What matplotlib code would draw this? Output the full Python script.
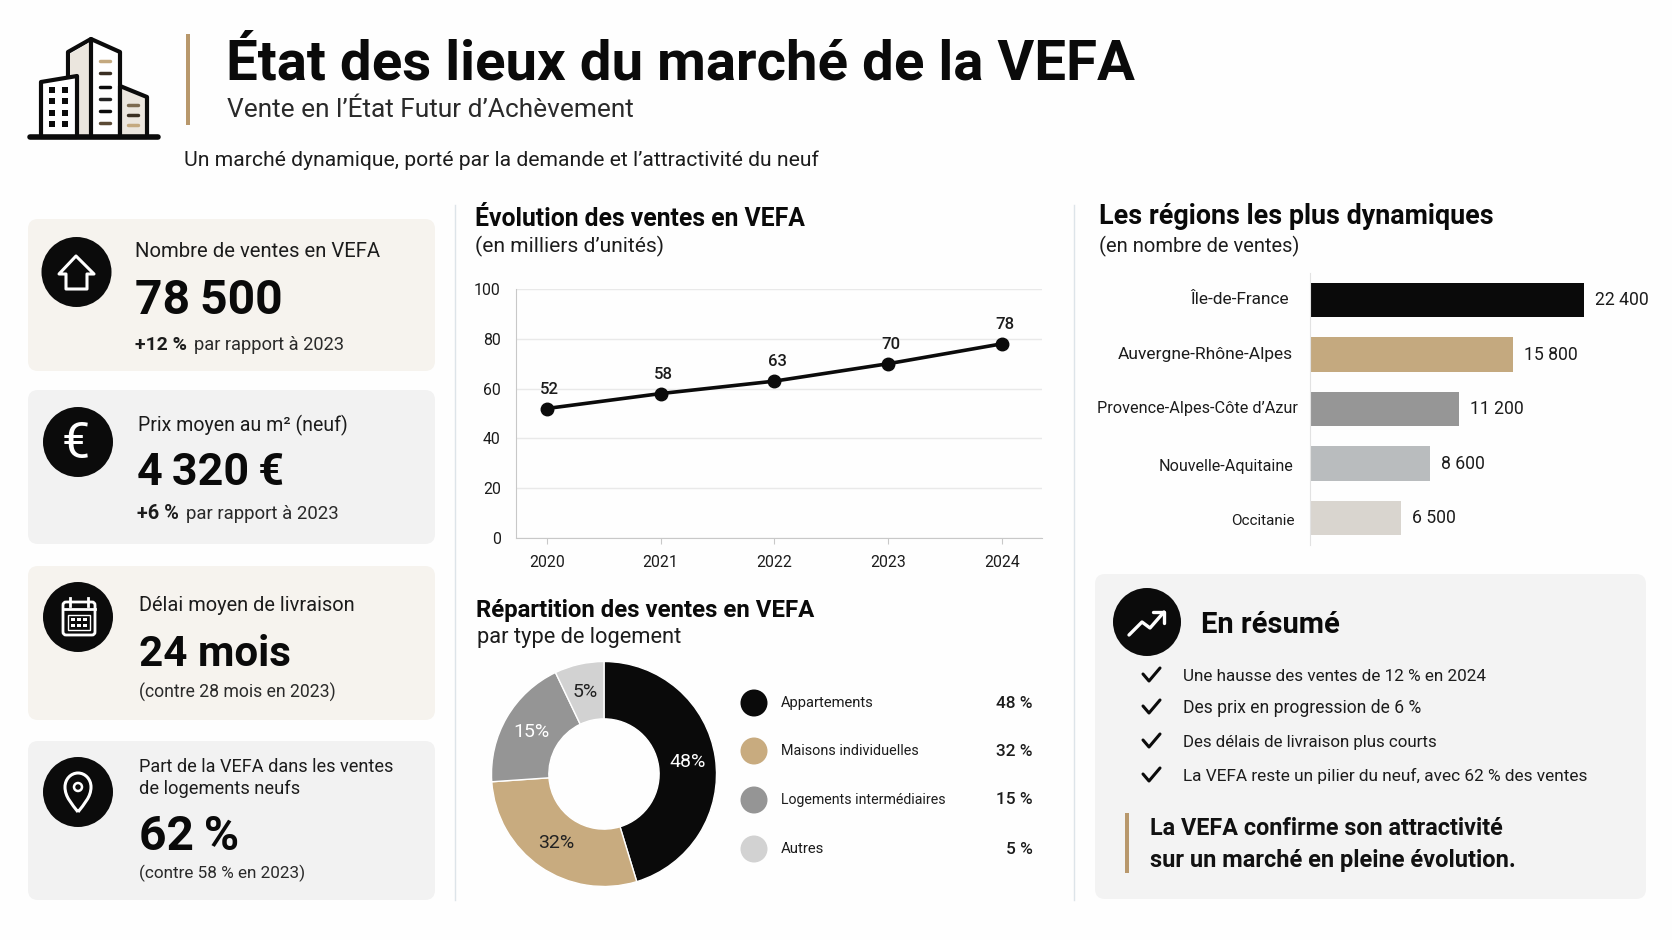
import math
import matplotlib
matplotlib.use('Agg')
import matplotlib.pyplot as plt
from matplotlib.patches import FancyBboxPatch, Circle, Rectangle, Polygon, PathPatch
from matplotlib.path import Path

W, H = 1672, 940
INK = '#0b0b0b'
TEXT = '#1c1c1c'
TAN = '#c4a97f'
ACCENT = '#b8986c'

plt.rcParams['font.family'] = ['Roboto', 'Noto Sans', 'DejaVu Sans']

years = ['2020', '2021', '2022', '2023', '2024']
sales = [52, 58, 63, 70, 78]
y_ticks = [0, 20, 40, 60, 80, 100]

types = ['Appartements', 'Maisons individuelles', 'Logements intermédiaires', 'Autres']
type_pct = [48, 32, 15, 5]
# the slices in the picture are not cut to their printed percentages: these are the drawn shares
type_drawn = [45.3, 28.6, 19.0, 7.1]
type_colors = ['#0a0a0a', '#c8ab7f', '#959595', '#d2d2d2']
type_label_colors = ['white', '#222222', 'white', '#222222']

regions = ['Île-de-France', 'Auvergne-Rhône-Alpes', 'Provence-Alpes-Côte d’Azur',
           'Nouvelle-Aquitaine', 'Occitanie']
region_sales = [22400, 15800, 11200, 8600, 6500]
# same thing for the bars, lengths read from their ends
region_drawn = [22400, 16620, 12200, 9825, 7450]
region_colors = ['#0a0a0a', '#c4a97f', '#969696', '#b9bcbe', '#d9d5cf']

kpi_labels = ['Nombre de ventes en VEFA', 'Prix moyen au m² (neuf)', 'Délai moyen de livraison',
              'Part de la VEFA dans les ventes\nde logements neufs']
kpi_values = ['78\u2009500', '4\u2009320\u2009€', '24 mois', '62\u2009%']
kpi_bold = ['+12 %', '+6 %', '', '']
kpi_notes = ['par rapport à 2023', 'par rapport à 2023', '(contre 28 mois en 2023)', '(contre 58 % en 2023)']

summary = ['Une hausse des ventes de 12 % en 2024', 'Des prix en progression de 6 %',
           'Des délais de livraison plus courts', 'La VEFA reste un pilier du neuf, avec 62 % des ventes']


def fr(n):
    return f'{n:,}'.replace(',', ' ')


fig = plt.figure(figsize=(W / 100, H / 100), dpi=100, facecolor='#fefefe')
renderer = fig.canvas.get_renderer()
bg = fig.add_axes([0, 0, 1, 1])
bg.set_xlim(0, W)
bg.set_ylim(H, 0)
bg.axis('off')


def px_axes(left, top, right, bottom):
    ax = fig.add_axes([left / W, 1 - bottom / H, (right - left) / W, (bottom - top) / H])
    ax.patch.set_alpha(0)
    return ax


def txt(x, y, s, to, weight='normal', color=TEXT, ha='left', va='baseline'):
    # to = right edge of the text in the reference, font size follows from it
    t = bg.text(x, y, s, fontsize=14, fontweight=weight, color=color, ha=ha, va=va)
    for _ in range(3):
        t.set_fontsize(t.get_fontsize() * (to - x) / t.get_window_extent(renderer).width)
    return t


def card(x0, y0, x1, y1, color):
    bg.add_patch(FancyBboxPatch((x0, y0), x1 - x0, y1 - y0, boxstyle='round,pad=0,rounding_size=10',
                                fc=color, ec='none'))


def stroke(points, lw, color='white', closed=False, fill='none'):
    if closed:
        bg.add_patch(Polygon(points, closed=True, fc=fill, ec=color, lw=lw, joinstyle='round'))
    else:
        xs, ys = zip(*points)
        bg.plot(xs, ys, color=color, lw=lw, solid_capstyle='round', solid_joinstyle='round')


# header
bg.add_patch(Rectangle((186, 34), 4, 91, fc=ACCENT, ec='none'))
txt(226, 80, 'État des lieux du marché de la VEFA', 1135, 'bold', color='#0a0a0a')
txt(227, 117, 'Vente en l’État Futur d’Achèvement', 633, color='#2a2a2a')
txt(184, 166, 'Un marché dynamique, porté par la demande et l’attractivité du neuf', 819)

# building logo
stroke([(68, 75), (68, 52), (91, 39), (120, 52), (120, 137), (68, 137)], 3, INK, True, 'white')
bg.add_patch(Polygon([(70, 54), (90, 42), (90, 135), (70, 135)], fc='#ebe6de', ec='none'))
stroke([(120, 86), (147, 97), (147, 137), (120, 137)], 3, INK, True, '#ebe6de')
stroke([(41, 137), (41, 82), (77, 76), (77, 137)], 3, INK, True, 'white')
stroke([(91, 39), (91, 137)], 3, INK)
stroke([(30, 137), (158, 137)], 4, INK)
for wy in [90, 101, 113, 124]:
    for wx in [52, 65]:
        bg.add_patch(Rectangle((wx - 3, wy - 3), 6, 6, fc=INK, ec='none'))
for wy, wc in zip([61, 73, 87, 99, 111, 123], [TAN, '#3a2f22', INK, '#222222', INK, '#5b4a35']):
    stroke([(100, wy), (110, wy)], 2.5, wc)
for wy, wc in zip([105, 115, 125], ['#7c6a50', '#3a2f22', TAN]):
    stroke([(128, wy), (138, wy)], 2.5, wc)

# KPI cards
card_boxes = [(28, 219, 435, 371), (28, 390, 435, 544), (28, 566, 435, 720), (28, 741, 435, 900)]
card_colors = ['#f6f3ee', '#f2f2f2', '#f6f3ee', '#f2f2f2']
circles = [(76.5, 272), (78, 442), (78, 617), (78, 792)]
text_x = [135, 138, 139, 139]
label_y = [257, 431, 611, 772]
label_end = [380, 348, 355, 393]
value_x = [135, 137, 139, 139]
value_y = [314, 485, 666, 850]
value_end = [283, 284, 291, 239]
note_y = [350, 519, 698, 878]
note_x = [194, 186, 139, 139]
note_end = [344, 339, 337, 306]
bold_end = [187, 179]
for i in range(4):
    card(*card_boxes[i], card_colors[i])
    bg.add_patch(Circle(circles[i], 35, fc=INK, ec='none', zorder=3))
    lines = kpi_labels[i].split('\n')
    txt(text_x[i], label_y[i], lines[0], label_end[i])
    if len(lines) > 1:
        txt(text_x[i], label_y[i] + 22.5, lines[1], 300)
    txt(value_x[i], value_y[i], kpi_values[i], value_end[i], 'bold', color='#0a0a0a')
    if kpi_bold[i]:
        txt(value_x[i], note_y[i], kpi_bold[i], bold_end[i], 'bold')
    txt(note_x[i], note_y[i], kpi_notes[i], note_end[i], color='#2a2a2a')

# card icons
kw = dict(zorder=4)
bg.add_patch(Polygon([(59, 274), (76, 256), (94, 274), (87, 274), (87, 289), (66, 289), (66, 274)],
                     fc='none', ec='white', lw=2.2, joinstyle='round', **kw))
bg.text(76, 458, '€', fontsize=36, color='white', ha='center', va='baseline', zorder=4)
bg.add_patch(FancyBboxPatch((63, 602), 32, 33, boxstyle='round,pad=0,rounding_size=3', fc='none', ec='white', lw=2, **kw))
bg.plot([63, 95], [609, 609], color='white', lw=2, zorder=4)
for bx in [70, 88]:
    bg.plot([bx, bx], [598, 606], color='white', lw=2, zorder=4)
bg.add_patch(Rectangle((68, 615), 22, 15, fc='none', ec='white', lw=1, zorder=4))
for gy in [619, 625]:
    for gx in [71, 77, 83]:
        bg.add_patch(Rectangle((gx, gy - 1.5), 4, 3.5, fc='white', ec='none', zorder=4))
pin = Path([(78, 812), (72, 804), (65, 797), (65, 787), (65, 779), (71, 773), (78, 773),
            (85, 773), (91, 779), (91, 787), (91, 797), (84, 804), (78, 812)],
           [Path.MOVETO] + [Path.CURVE4] * 12)
bg.add_patch(PathPatch(pin, fc='none', ec='white', lw=2.2, zorder=4))
bg.add_patch(Circle((78, 787), 4, fc='none', ec='white', lw=1.8, zorder=4))

# dividers
for dx in [455, 1074]:
    bg.plot([dx, dx], [205, 900], color='#dde4e9', lw=1)

# line chart
txt(475, 226, 'Évolution des ventes en VEFA', 805, 'bold', color='#0a0a0a')
txt(475, 252, '(en milliers d’unités)', 663)
ax = px_axes(516, 289, 1042, 538)
ax.plot(years, sales, color=INK, lw=2.6, marker='o', ms=9)
ax.set_xlim(-0.27, 4.35)
ax.set_ylim(0, 100)
ax.set_yticks(y_ticks)
ax.grid(axis='y', color='#e9e9e9', lw=1)
ax.set_axisbelow(True)
ax.tick_params(axis='x', length=4, color='#c8c8c8', labelsize=11.4, labelcolor=TEXT, pad=8)
ax.tick_params(axis='y', length=0, labelsize=11.4, labelcolor=TEXT, pad=11)
for s in ['top', 'right']:
    ax.spines[s].set_visible(False)
for s in ['left', 'bottom']:
    ax.spines[s].set_color('#c8c8c8')
for i, v in enumerate(sales):
    ax.annotate(str(v), (i, v), xytext=(2, 14), textcoords='offset points', ha='center',
                va='center', fontsize=12, fontweight='medium', color=TEXT)

# donut
txt(476, 617, 'Répartition des ventes en VEFA', 814, 'bold', color='#0a0a0a')
txt(477, 643, 'par type de logement', 681)
pie_ax = px_axes(491.5, 661.5, 716.5, 886.5)
wedges, _ = pie_ax.pie(type_drawn, colors=type_colors, startangle=90, counterclock=False, radius=1,
                       wedgeprops=dict(width=0.51, edgecolor='white', linewidth=1, clip_on=False))
pie_ax.set_xlim(-1, 1)
pie_ax.set_ylim(-1, 1)
for w, p, c in zip(wedges, type_pct, type_label_colors):
    a = math.radians((w.theta1 + w.theta2) / 2)
    pie_ax.text(0.75 * math.cos(a), 0.75 * math.sin(a), f'{p}%', ha='center', va='center',
                fontsize=14, color=c)
legend_y = [703, 751, 800, 849]
legend_end = [874.5, 918.5, 946.5, 824]
for ly, name, e, p, c in zip(legend_y, types, legend_end, type_pct, type_colors):
    bg.add_patch(Circle((754, ly), 13.5, fc=c, ec='none'))
    txt(781, ly, name, e, va='center')
    bg.text(1033, ly, f'{p} %', fontsize=12.4, fontweight='medium', color=TEXT, ha='right', va='center')

# bars
txt(1099, 224, 'Les régions les plus dynamiques', 1494, 'bold', color='#0a0a0a')
txt(1099, 252, '(en nombre de ventes)', 1300)
bar_ax = px_axes(1310, 272.75, 1672, 545.25)
bars = bar_ax.barh(range(5), region_drawn, height=0.624, color=region_colors)
bar_ax.set_xlim(0, 362 / 273.6 * 22400)
bar_ax.set_ylim(4.5, -0.5)
bar_ax.set_xticks([])
bar_ax.set_yticks(range(5), [''] * 5)
bar_ax.tick_params(axis='y', length=0)
for s in ['top', 'right', 'bottom']:
    bar_ax.spines[s].set_visible(False)
bar_ax.spines['left'].set_color('#e2e2e2')
bar_ax.bar_label(bars, labels=[fr(v) for v in region_sales], padding=8, fontsize=12.7, color=TEXT)
# the region names do not share one right edge in the reference
name_left = [1190.6, 1117.7, 1097.4, 1159, 1231]
name_right = [1289.5, 1293, 1298, 1295, 1295]
name_y = [299, 354, 409, 466, 521]
for name, x0, x1, ny in zip(regions, name_left, name_right, name_y):
    txt(x0, ny, name, x1, va='center')

# summary card
card(1095, 574, 1646, 899, '#f3f3f3')
bg.add_patch(Circle((1147, 622), 34, fc=INK, ec='none'))
stroke([(1129, 635), (1142, 622), (1150, 628), (1164, 612)], 2.4)
stroke([(1153, 612), (1164, 612), (1164, 623)], 2.4)
txt(1201, 633, 'En résumé', 1340, 'bold', color='#0a0a0a')
bullet_y = [681, 713, 747, 781]
bullet_end = [1487, 1421, 1439, 1588.5]
for by, line, e in zip(bullet_y, summary, bullet_end):
    stroke([(1143, by - 7), (1149, by), (1160, by - 13)], 2.2, INK)
    txt(1183, by, line, e)
bg.add_patch(Rectangle((1125, 813), 4, 60, fc=ACCENT, ec='none'))
txt(1150, 835, 'La VEFA confirme son attractivité', 1503, 'bold', color='#111111')
txt(1150, 867, 'sur un marché en pleine évolution.', 1515, 'bold', color='#111111')

fig.savefig('out.png', dpi=100, facecolor=fig.get_facecolor())
